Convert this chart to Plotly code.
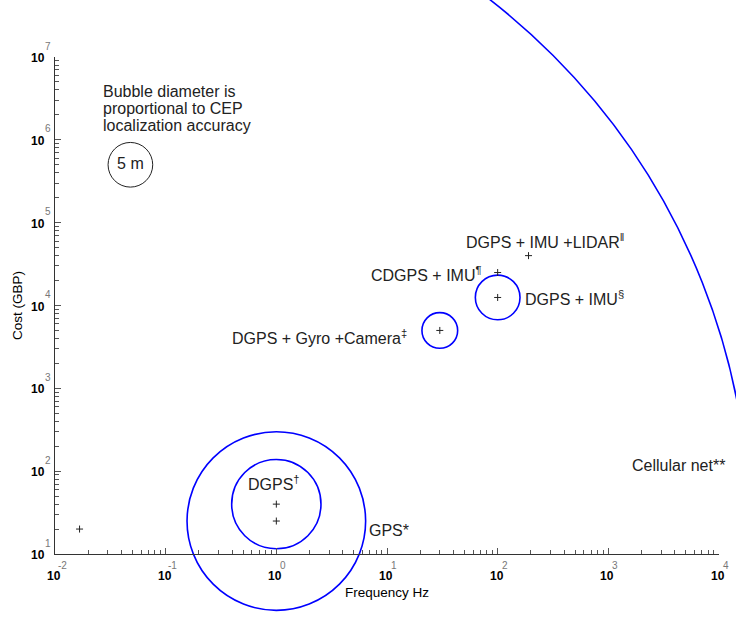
import numpy as np
import plotly.graph_objects as go

# Localization systems: update rate, cost and CEP accuracy
systems = ["GPS*", "DGPS<sup>†</sup>", "DGPS + Gyro +Camera<sup>‡</sup>",
           "CDGPS + IMU<sup>¶</sup>", "DGPS + IMU<sup>§</sup>",
           "DGPS + IMU +LIDAR<sup>‖</sup>", "Cellular net**"]
freq_hz = [1, 1, 30, 100, 100, 190, 1 / 60]
cost_gbp = [25, 40, 5000, 25000, 12500, 40000, 20]
cep_m = [20, 10, 4, None, 5, None, 150]

# reference bubble
ref_cep_m = 5
ref_freq_hz = 0.048
ref_cost_gbp = 5.0e5

x_exponents = [-2, -1, 0, 1, 2, 3, 4]
y_exponents = [1, 2, 3, 4, 5, 6, 7]

PX_PER_M = 8.93
BLUE = "#0000ff"
TEXT = "#222222"
FONT = "Liberation Sans, Arial, sans-serif"

# label placement relative to each point: (xanchor, xshift, yshift)
label_pos = [("left", 91, -9), ("center", -2, 21), ("right", -31, -7),
             ("right", -15, -1), ("left", 25, -1), ("left", -65, 15),
             ("left", 550, 64)]

fig = go.Figure()

# accuracy bubbles (diameter in pixels proportional to CEP)
bx = [f for f, c in zip(freq_hz, cep_m) if c is not None]
by = [g for g, c in zip(cost_gbp, cep_m) if c is not None]
bs = [c * PX_PER_M for c in cep_m if c is not None]
fig.add_trace(go.Scatter(
    x=bx, y=by, mode="markers", cliponaxis=False, hoverinfo="skip",
    marker=dict(symbol="circle-open", size=bs, color=BLUE, opacity=1,
                line=dict(color=BLUE, width=1.6)),
))

# reference bubble
fig.add_trace(go.Scatter(
    x=[ref_freq_hz], y=[ref_cost_gbp], mode="markers+text",
    text=[f"{ref_cep_m} m"], textposition="middle center",
    textfont=dict(family=FONT, size=16, color=TEXT),
    cliponaxis=False, hoverinfo="skip",
    marker=dict(symbol="circle-open", size=ref_cep_m * PX_PER_M,
                color="#222", line=dict(color="#222", width=1)),
))

# system positions
fig.add_trace(go.Scatter(
    x=freq_hz, y=cost_gbp, mode="markers", cliponaxis=False,
    marker=dict(symbol="cross-thin", size=5, color="#222",
                line=dict(color="#222", width=1)),
    hovertext=systems, hoverinfo="text",
))

annotations = []
for name, f, c, (xa, dx, dy) in zip(systems, freq_hz, cost_gbp, label_pos):
    annotations.append(dict(
        x=np.log10(f), y=np.log10(c), xref="x", yref="y", text=name,
        showarrow=False, xanchor=xa, yanchor="middle", xshift=dx, yshift=dy,
        font=dict(family=FONT, size=16, color=TEXT),
    ))

# explanatory note above the reference bubble
note_lines = ["Bubble diameter is", "proportional to CEP", "localization accuracy"]
for i, line in enumerate(note_lines):
    annotations.append(dict(
        x=np.log10(ref_freq_hz), y=np.log10(ref_cost_gbp), xref="x", yref="y",
        text=line, showarrow=False, xanchor="left", yanchor="middle",
        xshift=-29, yshift=73 - 17 * i,
        font=dict(family=FONT, size=16, color=TEXT),
    ))

# power-of-ten tick labels
for k in x_exponents:
    annotations.append(dict(x=k, y=0, xref="x", yref="paper", text="<b>10</b>",
                            showarrow=False, xanchor="center", yanchor="middle",
                            xshift=-1, yshift=-22,
                            font=dict(family=FONT, size=12, color="black")))
    annotations.append(dict(x=k, y=0, xref="x", yref="paper", text=str(k),
                            showarrow=False, xanchor="center", yanchor="middle",
                            xshift=7, yshift=-11,
                            font=dict(family=FONT, size=10, color="#777777")))
for k in y_exponents:
    annotations.append(dict(x=0, y=k, xref="paper", yref="y", text="<b>10</b>",
                            showarrow=False, xanchor="center", yanchor="middle",
                            xshift=-17, yshift=-1,
                            font=dict(family=FONT, size=12, color="black")))
    annotations.append(dict(x=0, y=k, xref="paper", yref="y", text=str(k),
                            showarrow=False, xanchor="center", yanchor="middle",
                            xshift=-7, yshift=11,
                            font=dict(family=FONT, size=10, color="#777777")))

axis_common = dict(
    type="log", showgrid=False, zeroline=False, showline=True,
    linecolor="#333", linewidth=1, ticks="inside", ticklen=6,
    tickcolor="#555", tickmode="linear", tick0=0, dtick=1,
    showticklabels=False,
    minor=dict(ticks="inside", ticklen=4, tickcolor="#555", dtick="D1",
               showgrid=False),
)

fig.update_layout(
    width=736, height=621,
    margin=dict(l=55, r=16.5, t=57, b=67),
    paper_bgcolor="white", plot_bgcolor="white",
    showlegend=False,
    font=dict(family=FONT, color=TEXT),
    xaxis=dict(range=[-2, 4],
               title=dict(text="Frequency Hz", standoff=33,
                          font=dict(family=FONT, size=13.5, color="black")),
               **axis_common),
    yaxis=dict(range=[1, 7],
               title=dict(text="Cost (GBP)", standoff=28,
                          font=dict(family=FONT, size=13.5, color="black")),
               **axis_common),
    annotations=annotations,
)

fig.write_html("out.html")
